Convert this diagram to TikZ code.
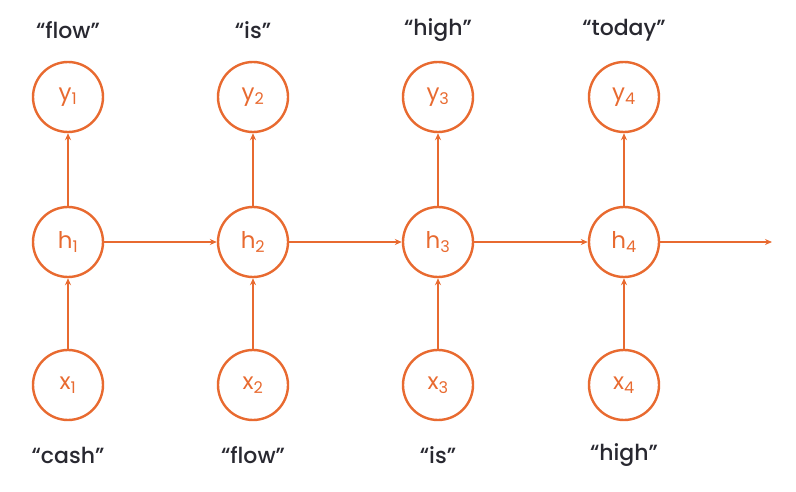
\documentclass[tikz,border=0pt]{standalone}
\usepackage{fontspec}
\setmainfont{Poppins}[BoldFont={* Medium}]
\usetikzlibrary{arrows.meta}
\definecolor{rnnorange}{RGB}{232,106,48}
\definecolor{wordgray}{RGB}{40,40,48}
\begin{document}
\begin{tikzpicture}[x=1pt,y=-1pt,
  cell/.style={circle,draw=rnnorange,line width=2.4pt,minimum size=70pt,inner sep=0pt,text=rnnorange,font=\fontsize{23}{23}\selectfont},
  word/.style={text=wordgray,font=\fontsize{22}{22}\selectfont\bfseries,inner sep=0pt},
  conn/.style={draw=rnnorange,line width=2.1pt,-{Stealth[length=7pt,width=6pt]}}]
\useasboundingbox (0,0) rectangle (796,492);
\foreach \i/\x/\top/\bot in {1/68/flow/cash,2/253/is/flow,3/438/high/is,4/624/today/high}{
  \node[cell] (y\i) at (\x,97) {y$_{\mathrm{\i}}$};
  \node[cell] (h\i) at (\x,242) {h$_{\mathrm{\i}}$};
  \node[cell] (x\i) at (\x,385) {x$_{\mathrm{\i}}$};
  \node[word] (t\i) at (\x,30) {“\top”};
  \node[word] (b\i) at (\x,455) {“\bot”};
  \draw[conn] (x\i) -- (h\i);
  \draw[conn] (h\i) -- (y\i);
}
\coordinate (end) at (772,242);
\draw[conn] (h1) -- (h2);
\draw[conn] (h2) -- (h3);
\draw[conn] (h3) -- (h4);
\draw[conn] (h4) -- (end);
\end{tikzpicture}
\end{document}
